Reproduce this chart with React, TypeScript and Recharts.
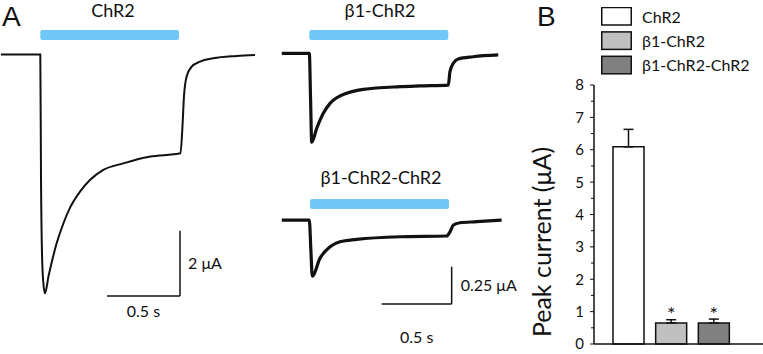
import React from 'react';
import {
    LineChart, Line, XAxis, YAxis, ReferenceArea, ReferenceLine,
    BarChart, Bar, Cell, ErrorBar, LabelList, Legend,
} from 'recharts';

const FONT = 'Lato, "Open Sans", sans-serif';
const LETTER_FONT = '"Liberation Sans", Arial, sans-serif';
const INK = '#111111';
const LIGHT = '#70c8f8';

// ChR2 trace, time in s (light on at 0), current in uA
const chr2Time = [-0.27, 0, 0.005, 0.012, 0.021, 0.032, 0.044, 0.055, 0.066, 0.112, 0.158, 0.203, 0.272, 0.340, 0.432, 0.568, 0.729, 0.866, 0.960, 0.975, 0.984, 1.002, 1.037, 1.094, 1.185, 1.345, 1.471];
const chr2Current = [0, 0, -3.86, -6.17, -7.03, -7.35, -7.15, -6.85, -6.63, -5.81, -5.20, -4.72, -4.22, -3.86, -3.55, -3.35, -3.16, -3.09, -3.04, -2.12, -1.30, -0.68, -0.375, -0.22, -0.117, -0.046, -0.015];

// b1-ChR2 trace
const b1Time = [-0.197, 0, 0.009, 0.017, 0.053, 0.100, 0.148, 0.196, 0.267, 0.386, 0.648, 0.791, 0.993, 1.005, 1.029, 1.064, 1.171, 1.350];
const b1Current = [0, 0, -0.31, -0.597, -0.503, -0.403, -0.336, -0.298, -0.268, -0.242, -0.224, -0.219, -0.213, -0.123, -0.067, -0.038, -0.023, -0.011];

// b1-ChR2-ChR2 trace
const b1dTime = [-0.197, 0, 0.011, 0.021, 0.076, 0.148, 0.219, 0.339, 0.648, 0.981, 1.005, 1.029, 1.076, 1.196, 1.374];
const b1dCurrent = [0, 0, -0.2, -0.376, -0.257, -0.179, -0.146, -0.130, -0.112, -0.107, -0.079, -0.034, -0.018, -0.011, 0];

// panel B
const groups = ['ChR2', 'β1-ChR2', 'β1-ChR2-ChR2'];
const peakMean = [6.09, 0.65, 0.65];
const peakSem = [0.54, 0.10, 0.12];
const marks = ['', '*', '*'];
const yTicks = [0, 0.5, 1, 1.5, 2, 2.5, 3, 3.5, 4, 4.5, 5, 5.5, 6, 6.5, 7, 7.5, 8];
const barFills = ['#ffffff', '#c0c0c0', '#808080'];

const toRows = (t: number[], i: number[]) => t.map((v, k) => ({ t: v, i: i[k] }));

const chr2Data = toRows(chr2Time, chr2Current);
const b1Data = toRows(b1Time, b1Current);
const b1dData = toRows(b1dTime, b1dCurrent);

const barData = groups.map((name, k) => ({
    name,
    mean: peakMean[k],
    err: [0, peakSem[k]],
    mark: marks[k],
}));

const labelStyle = { fill: INK, fontSize: 16, fontFamily: FONT };

const Trace = ({ data, left, top, width, height, xDomain, yDomain, strokeWidth, light, children }: any) => (
    <div style={{ position: 'absolute', left, top }}>
        <LineChart width={width} height={height} data={data} margin={{ top: 0, right: 0, bottom: 0, left: 0 }}>
            <XAxis type="number" dataKey="t" domain={xDomain} allowDataOverflow hide />
            <YAxis type="number" domain={yDomain} allowDataOverflow hide />
            <ReferenceArea x1={light[0]} x2={light[1]} y1={light[2]} y2={light[3]} fill={LIGHT} fillOpacity={1} stroke="none" radius={2} />
            {children}
            <Line type="monotone" dataKey="i" stroke={INK} strokeWidth={strokeWidth} dot={false} activeDot={false} isAnimationActive={false} />
        </LineChart>
    </div>
);

const YTick = (props: any) => {
    const { x, y, payload } = props;
    const v = payload.value;
    const major = Number.isInteger(v);
    return (
        <g>
            <line x1={x} x2={x - (major ? 4 : 3)} y1={y} y2={y} stroke={INK} strokeWidth={1} />
            {major && (
                <text x={x - 10} y={y} dy="0.36em" textAnchor="end" fontSize={15} fill={INK} fontFamily={FONT}>{v}</text>
            )}
        </g>
    );
};

const Asterisk = (props: any) => {
    const { x, y, width, value } = props;
    if (!value) return null;
    return (
        <text x={x + width / 2} y={y - 2} textAnchor="middle" fontSize={20} fill={INK} fontFamily={FONT}>{value}</text>
    );
};

const LegendBox = () => (
    <svg width={160} height={72}>
        {groups.map((g, k) => (
            <g key={g}>
                <rect x={0.75} y={0.5 + k * 24.4} width={29.5} height={17.5} fill={barFills[k]} stroke={INK} strokeWidth={1.5} />
                <text x={41} y={0.5 + k * 24.4 + 15} fontSize={16} fill={INK} fontFamily={FONT}>{g}</text>
            </g>
        ))}
    </svg>
);

export default function App() {
    return (
        <div style={{ position: 'absolute', left: 0, top: 0, width: 763, height: 354, background: '#fff', fontFamily: FONT }}>
            <svg width={763} height={354} style={{ position: 'absolute', left: 0, top: 0 }}>
                <text x={2} y={25.5} fontSize={28} fill={INK} fontFamily={LETTER_FONT}>A</text>
                <text x={537} y={25.5} fontSize={28} fill={INK} fontFamily={LETTER_FONT}>B</text>
                <text x={113} y={17} fontSize={18} textAnchor="middle" fill={INK} fontFamily={FONT}>ChR2</text>
                <text x={380} y={17} fontSize={18} textAnchor="middle" fill={INK} fontFamily={FONT}>β1-ChR2</text>
                <text x={381} y={184} fontSize={18} textAnchor="middle" fill={INK} fontFamily={FONT}>β1-ChR2-ChR2</text>
                <text x={551} y={242} fontSize={25} textAnchor="middle" fill={INK} fontFamily={FONT} transform="rotate(-90, 551, 242)">Peak current (μA)</text>
            </svg>

            <Trace data={chr2Data} left={0} top={0} width={260} height={340}
                xDomain={[-0.276, 1.505]} yDomain={[-8.785, 1.677]} strokeWidth={2}
                light={[0, 0.95, 0.754, 0.446]}>
                <ReferenceLine segment={[{ x: 0.957, y: -5.42 }, { x: 0.957, y: -7.43 }]} stroke={INK} strokeWidth={1.5}
                    label={{ value: '2 μA', position: 'right', offset: 8, ...labelStyle }} />
                <ReferenceLine segment={[{ x: 0.457, y: -7.43 }, { x: 0.957, y: -7.43 }]} stroke={INK} strokeWidth={1.5}
                    label={{ value: '0.5 s', position: 'bottom', offset: 10, ...labelStyle }} />
            </Trace>

            <Trace data={b1Data} left={270} top={0} width={240} height={160}
                xDomain={[-0.281, 1.434]} yDomain={[-0.716, 0.358]} strokeWidth={3.2}
                light={[0, 0.993, 0.156, 0.089]} />

            <Trace data={b1dData} left={270} top={170} width={275} height={184}
                xDomain={[-0.281, 1.684]} yDomain={[-0.899, 0.336]} strokeWidth={3.2}
                light={[0.005, 0.998, 0.141, 0.074]}>
                <ReferenceLine segment={[{ x: 1.017, y: -0.313 }, { x: 1.017, y: -0.564 }]} stroke={INK} strokeWidth={1.5}
                    label={{ value: '0.25 μA', position: 'right', offset: 9, ...labelStyle }} />
                <ReferenceLine segment={[{ x: 0.517, y: -0.564 }, { x: 1.017, y: -0.564 }]} stroke={INK} strokeWidth={1.5}
                    label={{ value: '0.5 s', position: 'bottom', offset: 28, ...labelStyle }} />
            </Trace>

            <div style={{ position: 'absolute', left: 560, top: 0 }}>
                <BarChart width={203} height={354} data={barData} margin={{ top: 85, right: 0, bottom: 0, left: 0 }}>
                    <XAxis dataKey="name" height={10} tick={false} tickLine={false}
                        axisLine={{ stroke: INK, strokeWidth: 1.5 }} padding={{ left: 13, right: 28 }} />
                    <YAxis width={34} domain={[0, 8]} ticks={yTicks} interval={0} tickSize={0} tickMargin={0}
                        tickLine={false} tick={<YTick />} axisLine={{ stroke: INK, strokeWidth: 1.5 }} />
                    <Bar dataKey="mean" barSize={31} stroke={INK} strokeWidth={1.5} isAnimationActive={false}>
                        {barData.map((d, k) => (
                            <Cell key={d.name} fill={barFills[k]} />
                        ))}
                        <ErrorBar dataKey="err" direction="y" width={5} stroke={INK} strokeWidth={1.5} />
                        <LabelList dataKey="mark" content={<Asterisk />} />
                    </Bar>
                    <Legend layout="vertical" align="center" verticalAlign="middle"
                        wrapperStyle={{ top: 7, left: 41, width: 160 }} content={<LegendBox />} />
                </BarChart>
            </div>
        </div>
    );
}
